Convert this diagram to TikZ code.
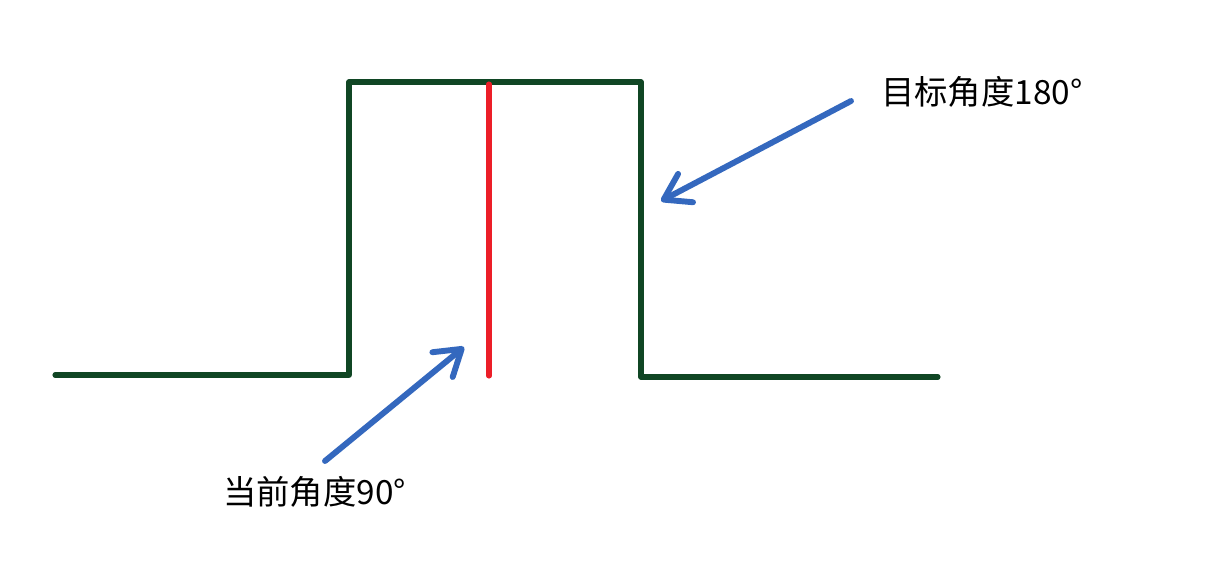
\documentclass[tikz,border=0pt]{standalone}
\usepackage{fontspec}
\newfontfamily\cjk{Noto Sans CJK SC}
\usetikzlibrary{positioning,arrows.meta}
\definecolor{pulsegreen}{RGB}{16,70,36}
\definecolor{markred}{RGB}{236,30,40}
\definecolor{hintblue}{RGB}{52,104,190}

\begin{document}
\begin{tikzpicture}[x=0.025cm,y=-0.025cm,>={Straight Barb[length=0.62cm,width=0.8cm,round]},
    pulse/.style={draw=pulsegreen,line width=3.6pt,line join=round,line cap=round},
    redline/.style={draw=markred,line width=3.6pt,line cap=round},
    hint/.style={draw=hintblue,line width=4.2pt,line cap=round,->},
    label/.style={font=\cjk\fontsize{23.7}{28}\selectfont,inner sep=0pt}]
    \useasboundingbox (0,0) rectangle (1215,568);
    % pulse outline
    \coordinate (p0) at (55,375);
    \coordinate (p1) at (349,375);
    \coordinate (p2) at (349,82);
    \coordinate (p3) at (641,82);
    \coordinate (p4) at (641,377);
    \coordinate (p5) at (938,377);
    \draw[pulse] (p0) -- (p1) -- (p2) -- (p3) -- (p4) -- (p5);
    % current angle
    \coordinate (rtop) at (489,84);
    \coordinate (rbot) at (489,376);
    \draw[redline] (rtop) -- (rbot);
    % labels
    \node[label,anchor=west] (target) at (881,92) {目标角度180°};
    \node[label,anchor=west] (current) at (223,492) {当前角度90°};
    \coordinate (ttail) at (851,101);
    \coordinate (ttip) at (661,201);
    \coordinate (ctail) at (325,461);
    \coordinate (ctip) at (464,347);
    \draw[hint] (ttail) -- (ttip);
    \draw[hint] (ctail) -- (ctip);
\end{tikzpicture}
\end{document}
